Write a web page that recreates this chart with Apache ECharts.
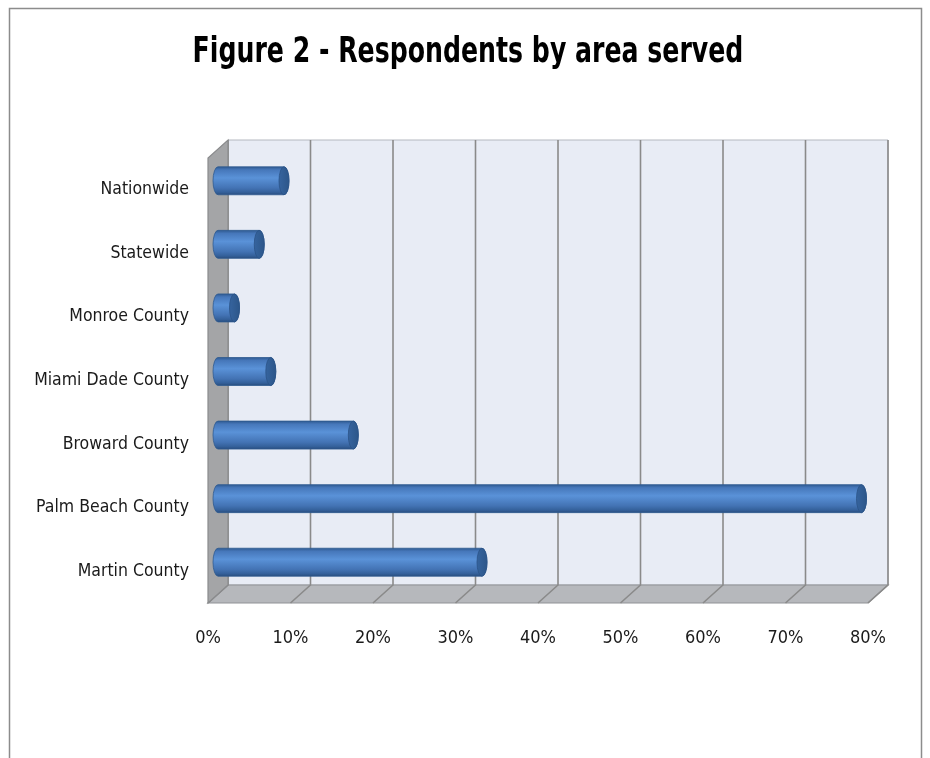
<!DOCTYPE html>
<html>
<head>
<meta charset="utf-8">
<script src="https://cdn.jsdelivr.net/npm/echarts@6/dist/echarts.min.js"></script>
<style>
html,body{margin:0;padding:0;background:#fff;}
#chart{width:930px;height:758px;}
</style>
</head>
<body>
<div id="chart"></div>
<script>
// ---- data ----
const titleText = 'Figure 2 - Respondents by area served';
const categories = ['Nationwide', 'Statewide', 'Monroe County', 'Miami Dade County', 'Broward County', 'Palm Beach County', 'Martin County'];
const values = [8, 5, 2, 6.4, 16.4, 78, 32];
const tickValues = [0, 10, 20, 30, 40, 50, 60, 70, 80];

// ---- style ----
const FONT = '"Liberation Sans Narrow", "DejaVu Sans Condensed", "Liberation Sans", sans-serif';
const DX = 10, DY = 9; // half depth offset of the 3D box

const chart = echarts.init(document.getElementById('chart'), null, {renderer: 'canvas'});

function renderWalls(params, api) {
  const band = api.size([0, 1])[1];
  const n = categories.length;
  const top = api.coord([0, 0])[1] - band / 2;
  const bottom = api.coord([0, n - 1])[1] + band / 2;
  const xMin = api.coord([tickValues[0], 0])[0];
  const xMax = api.coord([tickValues[tickValues.length - 1], 0])[0];
  const B = (x, y) => [x + DX, y - DY];
  const F = (x, y) => [x - DX, y + DY];
  const children = [];
  children.push({
    type: 'polygon',
    shape: {points: [B(xMin, top), B(xMax, top), B(xMax, bottom), B(xMin, bottom)]},
    style: {fill: '#e8ecf5', stroke: '#b4b8c0', lineWidth: 1}
  });
  children.push({
    type: 'polygon',
    shape: {points: [B(xMin, bottom), B(xMax, bottom), F(xMax, bottom), F(xMin, bottom)]},
    style: {fill: '#b6b8bc', stroke: '#909296', lineWidth: 1.2}
  });
  tickValues.forEach(t => {
    const x = api.coord([t, 0])[0];
    children.push({
      type: 'polyline',
      shape: {points: [B(x, top), B(x, bottom), F(x, bottom)]},
      style: {stroke: '#8a8a8a', lineWidth: 1.6, fill: null}
    });
  });
  children.push({
    type: 'polygon',
    shape: {points: [B(xMin, top), B(xMin, bottom), F(xMin, bottom), F(xMin, top)]},
    style: {fill: '#a4a5a7', stroke: '#8a8b8d', lineWidth: 1.2}
  });
  return {type: 'group', children: children};
}

function renderBar(params, api) {
  const v = api.value(0);
  const c = api.value(1);
  const p0 = api.coord([0, c]);
  const p1 = api.coord([v, c]);
  const band = api.size([0, 1])[1];
  const r = band * 0.22;
  const rx = 5;
  const y = p0[1];
  const x0 = p0[0], x1 = p1[0];
  const body = 'M' + x0 + ' ' + (y - r) + ' L' + x1 + ' ' + (y - r) +
    ' A' + rx + ' ' + r + ' 0 0 1 ' + x1 + ' ' + (y + r) +
    ' L' + x0 + ' ' + (y + r) +
    ' A' + rx + ' ' + r + ' 0 0 1 ' + x0 + ' ' + (y - r) + ' Z';
  const cap = 'M' + x1 + ' ' + (y - r) +
    ' A' + rx + ' ' + r + ' 0 0 1 ' + x1 + ' ' + (y + r) +
    ' A' + rx + ' ' + r + ' 0 0 1 ' + x1 + ' ' + (y - r) + ' Z';
  return {
    type: 'group',
    children: [
      {
        type: 'path',
        shape: {pathData: body},
        style: {
          fill: new echarts.graphic.LinearGradient(0, 0, 0, 1, [
            {offset: 0, color: '#2c578c'},
            {offset: 0.12, color: '#4677ba'},
            {offset: 0.4, color: '#5a92d8'},
            {offset: 0.75, color: '#4373b4'},
            {offset: 0.9, color: '#34609a'},
            {offset: 1, color: '#284b7a'}
          ]),
          stroke: '#2e5a90', lineWidth: 0.8
        }
      },
      {
        type: 'path',
        shape: {pathData: cap},
        style: {
          fill: new echarts.graphic.LinearGradient(0, 0, 1, 0, [
            {offset: 0, color: '#36649f'},
            {offset: 1, color: '#2c5689'}
          ]),
          stroke: '#2b5387', lineWidth: 0.8
        }
      }
    ]
  };
}

const option = {
  backgroundColor: '#ffffff',
  animation: false,
  graphic: [
    {
      type: 'rect',
      shape: {x: 9.5, y: 8.5, width: 912, height: 780},
      style: {fill: null, stroke: '#8c8c8c', lineWidth: 1.5},
      silent: true
    },
    {
      type: 'text',
      x: 468, y: 35, scaleX: 0.8,
      style: {
        text: titleText, align: 'center', verticalAlign: 'top',
        fontFamily: FONT, fontSize: 35, fontWeight: 'bold', fill: '#000'
      }
    }
  ],
  grid: [
    {left: 208, top: 158, width: 660, height: 445, containLabel: false},
    {left: 218, top: 149, width: 660, height: 445, containLabel: false}
  ],
  xAxis: [
    {
      type: 'value', gridIndex: 0, min: 0, max: 80, interval: 10,
      axisLine: {show: false}, axisTick: {show: false}, splitLine: {show: false},
      axisLabel: {formatter: '{value}%', margin: 26, color: '#1a1a1a', fontFamily: FONT, fontSize: 18}
    },
    {
      type: 'value', gridIndex: 1, min: 0, max: 80, interval: 10, show: false,
      splitLine: {show: false}
    }
  ],
  yAxis: [
    {
      type: 'category', gridIndex: 0, data: categories, inverse: true,
      axisLine: {show: false}, axisTick: {show: false}, splitLine: {show: false},
      axisLabel: {margin: 19, color: '#1a1a1a', fontFamily: FONT, fontSize: 17.5}
    },
    {
      type: 'category', gridIndex: 1, data: categories, inverse: true, show: false
    }
  ],
  series: [
    {
      type: 'custom', name: 'walls', xAxisIndex: 1, yAxisIndex: 1, z: 1,
      renderItem: renderWalls, data: [[0, 0]], silent: true, clip: false
    },
    {
      type: 'custom', name: 'Respondents', xAxisIndex: 1, yAxisIndex: 1, z: 5,
      renderItem: renderBar, clip: false,
      encode: {x: 0, y: 1},
      data: values.map((v, i) => [v, i])
    }
  ]
};
chart.setOption(option);
</script>
</body>
</html>
